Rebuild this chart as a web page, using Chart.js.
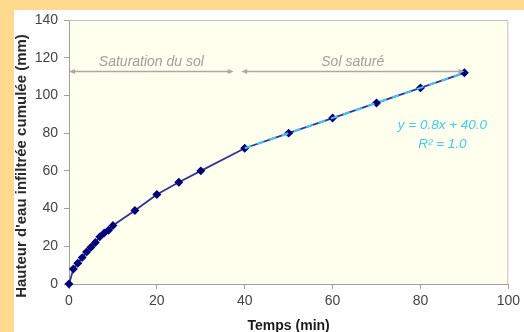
<!DOCTYPE html>
<html>
<head>
<meta charset="utf-8">
<script src="https://cdn.jsdelivr.net/npm/chart.js@4.4.1/dist/chart.umd.min.js"></script>
<style>
  html, body { margin: 0; padding: 0; background: #FFD98E; }
  #wrap { width: 524px; height: 332px; }
</style>
</head>
<body>
<div id="wrap"><canvas id="infiltChart" width="524" height="332"></canvas></div>
<script>
// temps (min) et hauteur d'eau infiltrée cumulée (mm)
const temps = [0, 1, 2, 3, 4, 5, 6, 7, 8, 9, 10, 15, 20, 25, 30, 40, 50, 60, 70, 80, 90];
const hauteur = [0, 8, 11, 14, 17, 19.5, 22, 25, 27, 28.5, 31, 39, 47.5, 54, 60, 72, 80, 88, 96, 104, 112];

// courbe de tendance (phase sol saturé)
const trendX = [40, 90];
const trendY = [72, 112];

// zones annotées
const zoneLabels = ['Saturation du sol', 'Sol saturé'];
const zoneStart = [0, 39.2];
const zoneEnd = [37.5, 90];
const zoneLevel = 113;

const xTicks = [0, 20, 40, 60, 80, 100];
const yTicks = [0, 20, 40, 60, 80, 100, 120, 140];

const FONT = '"Liberation Sans", Arial, sans-serif';

const decor = {
    id: 'decor',
    beforeDraw(chart) {
        const ctx = chart.ctx;
        const a = chart.chartArea;
        ctx.save();
        ctx.fillStyle = '#FFD98E';
        ctx.fillRect(0, 0, chart.width, chart.height);
        ctx.fillStyle = '#FFFFFF';
        ctx.fillRect(14, 10, chart.width - 14, chart.height - 10);
        ctx.fillStyle = '#FFFFEE';
        ctx.fillRect(a.left, a.top, a.right - a.left, a.bottom - a.top);
        ctx.restore();
    },
    afterDraw(chart) {
        const ctx = chart.ctx;
        const a = chart.chartArea;
        const xs = chart.scales.x, ys = chart.scales.y;
        ctx.save();
        // cadre
        ctx.strokeStyle = '#C0C0C0';
        ctx.lineWidth = 1;
        ctx.beginPath();
        ctx.moveTo(a.left, a.top + 0.5);
        ctx.lineTo(a.right - 0.5, a.top + 0.5);
        ctx.lineTo(a.right - 0.5, a.bottom);
        ctx.stroke();

        // flèches des zones
        const yy = Math.round(ys.getPixelForValue(zoneLevel)) + 0.5;
        zoneLabels.forEach((lab, i) => {
            const x1 = xs.getPixelForValue(zoneStart[i]);
            const x2 = xs.getPixelForValue(zoneEnd[i]);
            ctx.strokeStyle = '#A8A8A8';
            ctx.fillStyle = '#A8A8A8';
            ctx.lineWidth = 1.3;
            ctx.beginPath();
            ctx.moveTo(x1 + 3, yy);
            ctx.lineTo(x2 - 3, yy);
            ctx.stroke();
            ctx.beginPath();
            ctx.moveTo(x1, yy); ctx.lineTo(x1 + 6, yy - 2.5); ctx.lineTo(x1 + 6, yy + 2.5); ctx.closePath();
            ctx.fill();
            ctx.beginPath();
            ctx.moveTo(x2, yy); ctx.lineTo(x2 - 6, yy - 2.5); ctx.lineTo(x2 - 6, yy + 2.5); ctx.closePath();
            ctx.fill();
            ctx.font = 'italic 14px ' + FONT;
            ctx.fillStyle = '#A0A0A0';
            ctx.textAlign = 'center';
            ctx.textBaseline = 'bottom';
            ctx.fillText(lab, (x1 + x2) / 2, yy - 2);
        });

        // équation de la tendance
        ctx.fillStyle = '#3CCFF0';
        ctx.font = 'italic 13.5px ' + FONT;
        ctx.textAlign = 'center';
        ctx.textBaseline = 'middle';
        const ex = xs.getPixelForValue(85);
        ctx.fillText('y = 0.8x + 40.0', ex, ys.getPixelForValue(84.3));
        ctx.fillText('R² = 1.0', ex, ys.getPixelForValue(74.2));

        // titres des axes
        ctx.fillStyle = '#1A1A1A';
        ctx.font = 'bold 14px ' + FONT;
        ctx.textAlign = 'center';
        ctx.textBaseline = 'alphabetic';
        ctx.fillText('Temps (min)', (a.left + a.right) / 2, chart.height - 2);
        ctx.translate(26, 166);
        ctx.rotate(-Math.PI / 2);
        ctx.font = 'bold 15px ' + FONT;
        ctx.fillStyle = '#2A2A2A';
        ctx.fillText("Hauteur d'eau infiltrée cumulée (mm)", 0, 0);
        ctx.restore();
    }
};

const ctxInf = document.getElementById('infiltChart').getContext('2d');
const infiltChart = new Chart(ctxInf, {
    type: 'scatter',
    data: {
        datasets: [{
            label: 'Infiltration cumulée',
            data: temps.map((t, i) => ({ x: t, y: hauteur[i] })),
            showLine: true,
            borderColor: '#333399',
            borderWidth: 1.8,
            pointStyle: 'rectRot',
            pointRadius: 3.2,
            pointBackgroundColor: '#000080',
            pointBorderColor: '#000080',
            tension: 0,
            clip: false,
            order: 1
        }, {
            label: 'Tendance',
            data: trendX.map((t, i) => ({ x: t, y: trendY[i] })),
            showLine: true,
            borderColor: '#33CCFF',
            borderWidth: 2,
            borderDash: [7, 6],
            pointRadius: 0,
            order: 0
        }]
    },
    options: {
        responsive: false,
        animation: false,
        layout: { padding: { left: 14, right: 15, top: 20, bottom: 0 } },
        plugins: {
            legend: { display: false },
            tooltip: { enabled: false }
        },
        scales: {
            x: {
                type: 'linear',
                min: 0,
                max: 100,
                afterBuildTicks: (s) => { s.ticks = xTicks.map(v => ({ value: v })); },
                afterFit: (s) => { s.height = 48; },
                grid: { display: true, drawOnChartArea: false, drawTicks: true, tickLength: 5, color: '#A0A0A0' },
                border: { display: true, color: '#A0A0A0' },
                ticks: { color: '#444', font: { family: FONT, size: 14 }, padding: 4, maxRotation: 0 }
            },
            y: {
                type: 'linear',
                min: 0,
                max: 140,
                afterBuildTicks: (s) => { s.ticks = yTicks.map(v => ({ value: v })); },
                afterFit: (s) => { s.width = 55; },
                grid: { display: true, drawOnChartArea: false, drawTicks: true, tickLength: 5, color: '#A0A0A0' },
                border: { display: true, color: '#A0A0A0' },
                ticks: { color: '#444', font: { family: FONT, size: 14 }, padding: 6 }
            }
        }
    },
    plugins: [decor]
});
</script>
</body>
</html>
